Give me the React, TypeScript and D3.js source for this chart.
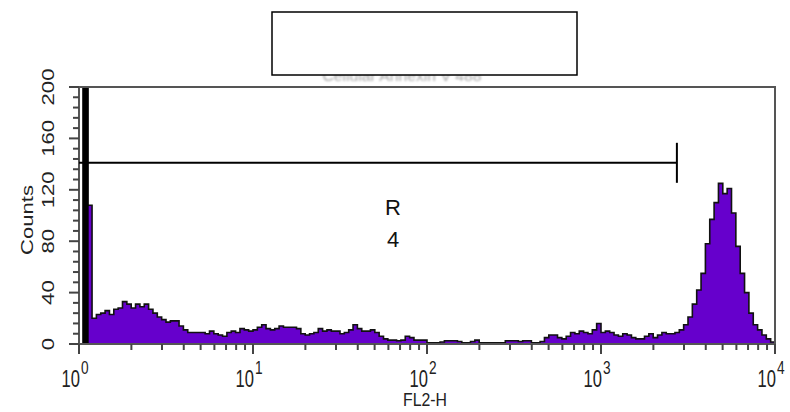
import React from "react";
import * as d3 from "d3";

// Histogram: 160 bins of equal width on log10 scale, from 10^0 to 10^4
const binCount = 160;
const counts: number[] = [
  0, 250, 108, 20, 23, 24, 26, 23, 27, 28,
  33, 31, 28, 31, 29, 31, 27, 24, 21, 19,
  17, 18, 18, 14, 11, 9, 9, 9, 9, 8,
  10, 8, 7, 6, 9, 10, 9, 12, 11, 10,
  11, 13, 15, 12, 11, 12, 14, 13, 13, 13,
  12, 8, 7, 8, 9, 12, 10, 11, 10, 10,
  8, 9, 11, 15, 12, 10, 10, 11, 9, 6,
  4, 3, 3, 2.5, 3, 6, 5, 3, 3, 3,
  1, 1, 1, 1.5, 2.5, 2.5, 2.5, 2, 1, 1,
  2, 3, 1, 1, 1, 1, 1, 1, 2.5, 2.5,
  2.5, 2, 2.5, 2.5, 1, 1, 2, 5, 7, 7,
  5, 4, 6, 9, 8, 10, 9, 8, 11, 16,
  9, 10, 9, 7, 6, 8, 7, 5, 4, 4,
  6, 8, 5, 7, 9, 8, 8, 9, 11, 15,
  21, 31, 42, 55, 78, 97, 110, 125, 117, 121,
  102, 76, 55, 40, 24, 15, 11, 7, 4, 1.5,
];

const yTickLabels = [0, 40, 80, 120, 160, 200];
const xDecades = [0, 1, 2, 3, 4];
const gateCount = 141;
const gateMax = 2730;
const regionLabel = ["R", "4"];
const xTitle = "FL2-H";
const yTitle = "Counts";
const hiddenTitle = "Cellular Annexin V 488";

export default function App() {
  const W = 790, H = 412;
  const left = 79, right = 775, top = 87, bottom = 344;
  const x = d3.scaleLog().domain([1, 10000]).range([left, right]);
  const y = d3.scaleLinear().domain([0, 200]).range([bottom, top]);
  const step = 4 / binCount;

  const pts: [number, number][] = [];
  pts.push([x(1), y(0)]);
  counts.forEach((c, i) => {
    const x0 = x(Math.pow(10, i * step));
    const x1 = x(Math.pow(10, (i + 1) * step));
    const yy = y(Math.min(c, 200));
    pts.push([x0, yy]);
    pts.push([x1, yy]);
  });
  pts.push([x(10000), y(0)]);
  const line = d3.line();
  const areaPath = line(pts) + "Z";
  const outlinePath = line(pts) || "";

  const clipped = counts
    .map((c, i) => ({ c, i }))
    .filter((d) => d.c > 200);

  const yMinor = d3.range(0, 201, 8);
  const xMinor: number[] = [];
  for (let d = 0; d < 4; d++) {
    for (let m = 2; m <= 9; m++) xMinor.push(m * Math.pow(10, d));
  }

  const font = "'Liberation Sans', Arial, sans-serif";
  const sx = 0.72; // horizontal squeeze of the axis texts
  const vs = 1.3; // vertical stretch of rotated texts

  return (
    <svg
      width={W}
      height={H}
      style={{ position: "absolute", left: 0, top: 0, background: "#fff" }}
      fontFamily={font}
    >
      <rect x={0} y={0} width={W} height={H} fill="#fff" />
      <defs>
        <clipPath id="plotclip">
          <rect x={left} y={top} width={right - left} height={bottom - top} />
        </clipPath>
      </defs>

      {/* hidden title text behind box */}
      <text
        x={402}
        y={81}
        textAnchor="middle"
        fontSize={15}
        fill="#aaa"
        style={{ filter: "blur(0.8px)" }}
        transform={`translate(402,0) scale(1.05,1) translate(-402,0)`}
      >
        {hiddenTitle}
      </text>
      <rect x={272} y={12} width={305} height={63} fill="#fff" stroke="#000" strokeWidth={1.5} />

      {/* histogram */}
      <g clipPath="url(#plotclip)">
        <path d={areaPath} fill="#6600cc" stroke="none" />
        <path d={outlinePath} fill="none" stroke="#111" strokeWidth={1.6} strokeLinejoin="miter" />
        {clipped.map((d) => {
          const x0 = x(Math.pow(10, d.i * step));
          const x1 = x(Math.pow(10, (d.i + 1) * step));
          return (
            <rect
              key={d.i}
              x={x0 - 1}
              y={top}
              width={x1 - x0 + 2}
              height={bottom - top}
              fill="#000"
            />
          );
        })}
      </g>

      {/* frame */}
      <rect
        x={left}
        y={top}
        width={right - left}
        height={bottom - top}
        fill="none"
        stroke="#555"
        strokeWidth={2}
      />

      {/* y ticks */}
      {yMinor.map((v) => {
        const major = v % 40 === 0;
        return (
          <line
            key={"yt" + v}
            x1={left - (major ? 10 : 6)}
            x2={left}
            y1={y(v)}
            y2={y(v)}
            stroke="#444"
            strokeWidth={2}
          />
        );
      })}
      {yTickLabels.map((v) => (
        <text
          key={"yl" + v}
          transform={`translate(54,${y(v)}) rotate(-90) scale(${vs},1)`}
          textAnchor="middle"
          fontSize={17}
          fill="#222"
        >
          {v}
        </text>
      ))}
      <text
        transform={`translate(33,220) rotate(-90) scale(${vs},1)`}
        textAnchor="middle"
        fontSize={17}
        fill="#222"
      >
        {yTitle}
      </text>

      {/* x ticks */}
      {xMinor.map((v) => (
        <line
          key={"xm" + v}
          x1={x(v)}
          x2={x(v)}
          y1={bottom}
          y2={bottom + 6}
          stroke="#444"
          strokeWidth={2}
        />
      ))}
      {xDecades.map((d) => (
        <line
          key={"xM" + d}
          x1={x(Math.pow(10, d))}
          x2={x(Math.pow(10, d))}
          y1={bottom}
          y2={bottom + 10}
          stroke="#444"
          strokeWidth={2}
        />
      ))}
      {xDecades.map((d) => {
        const tx = x(Math.pow(10, d));
        return (
          <g key={"xl" + d}>
            <text
              transform={`translate(${tx + 1},387) scale(${sx},1)`}
              textAnchor="end"
              fontSize={23}
              fill="#222"
            >
              10
            </text>
            <text
              transform={`translate(${tx + 2},374) scale(${sx},1)`}
              textAnchor="start"
              fontSize={19}
              fill="#222"
            >
              {d}
            </text>
          </g>
        );
      })}
      <text
        transform={`translate(425,406) scale(0.88,1)`}
        textAnchor="middle"
        fontSize={18}
        fill="#222"
      >
        {xTitle}
      </text>

      {/* gate R4 */}
      <line x1={x(1)} x2={x(gateMax)} y1={y(gateCount)} y2={y(gateCount)} stroke="#000" strokeWidth={2} />
      <line
        x1={x(gateMax)}
        x2={x(gateMax)}
        y1={y(gateCount) - 20}
        y2={y(gateCount) + 20}
        stroke="#000"
        strokeWidth={2}
      />
      <text x={393} y={215} textAnchor="middle" fontSize={22} fill="#111">
        {regionLabel[0]}
      </text>
      <text x={393} y={247} textAnchor="middle" fontSize={22} fill="#111">
        {regionLabel[1]}
      </text>
    </svg>
  );
}
